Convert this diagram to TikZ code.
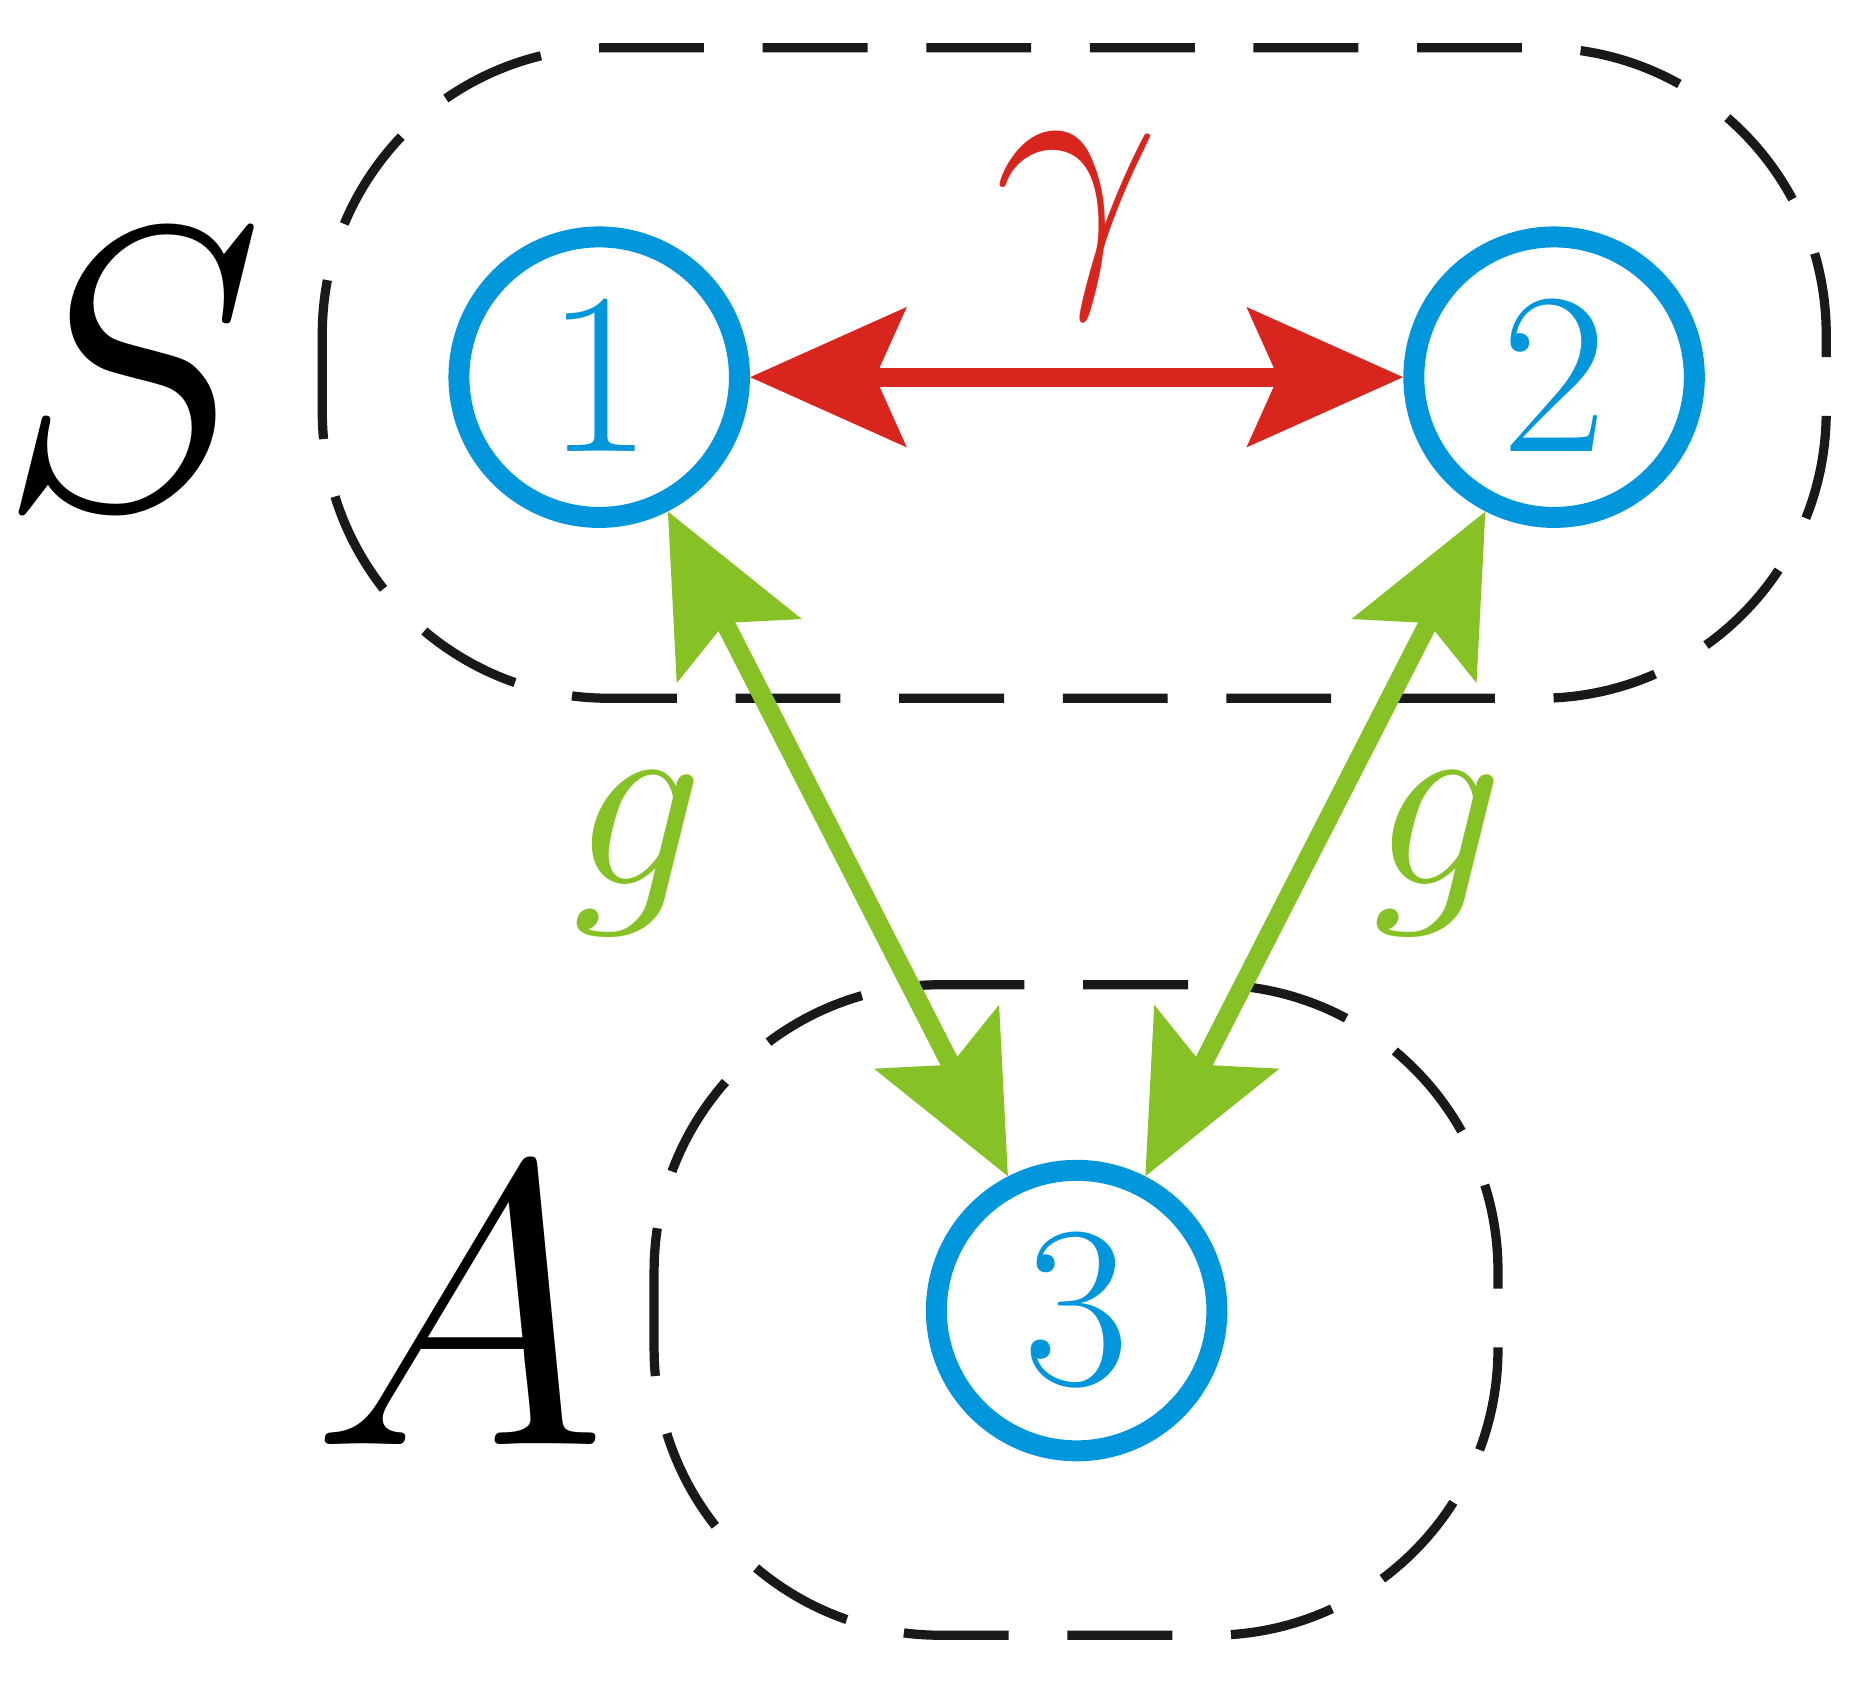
\RequirePackage{fix-cm}
\documentclass[tikz,border=0pt]{standalone}
\usepackage{amsmath}
\usepackage{xcolor}
\usetikzlibrary{positioning,arrows.meta}
\definecolor{nodeblue}{HTML}{0096DC}
\definecolor{linkred}{HTML}{D8261E}
\definecolor{linkgreen}{HTML}{86C226}
\tikzset{
	site/.style={circle,draw=nodeblue,line width=5pt,minimum size=2.35cm,inner sep=0pt,text=nodeblue,font=\fontsize{55}{65}\selectfont},
	group/.style={draw=black!90,line width=2.2pt,dash pattern=on 25pt off 14pt,rounded corners=2.4cm},
	link/.style={line width=4.5pt,{Stealth[length=13mm,width=11.5mm,inset=2.5mm]}-{Stealth[length=13mm,width=11.5mm,inset=2.5mm]}},
	tag/.style={font=\fontsize{96}{110}\selectfont},
}
\begin{document}
\begin{tikzpicture}
	\useasboundingbox (0,0) rectangle (15.6,-14.18);
	\draw[group] (2.7,-0.4) rectangle (15.3,-5.85);
	\draw[group] (5.48,-8.25) rectangle (12.55,-13.7);
	\node[site] (n1) at (5.02,-3.16) {$1$};
	\node[site] (n2) at (13.02,-3.16) {$2$};
	\node[site] (n3) at (9.02,-10.98) {$3$};
	\node[tag] (S) at (1.1,-3.1) {$S$};
	\node[tag] (A) at (3.85,-10.95) {$A$};
	\draw[link,linkred] (n1) -- (n2) node[midway,above=0.3cm,font=\fontsize{70}{80}\selectfont] (gam) {$\gamma$};
	\draw[link,linkgreen] (n1) -- (n3);
	\draw[link,linkgreen] (n2) -- (n3);
	\node[text=linkgreen,font=\fontsize{62}{70}\selectfont] (g1) at (5.35,-7.15) {$g$};
	\node[text=linkgreen,font=\fontsize{62}{70}\selectfont] (g2) at (12.05,-7.15) {$g$};
\end{tikzpicture}
\end{document}
